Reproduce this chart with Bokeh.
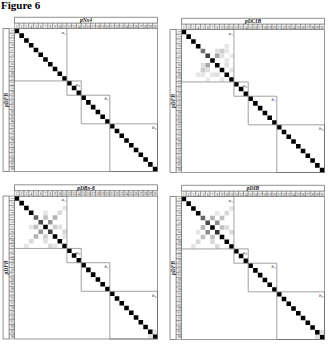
from bokeh.plotting import figure
from bokeh.models import Range1d, Div, ColumnDataSource
from bokeh.layouts import column, row
from bokeh.embed import file_html
from bokeh.resources import INLINE
from bokeh.core.properties import value
import math

# ---------------- data ----------------
n_vars = 30
col_labels = [str(i) for i in range(1, n_vars + 1)]
row_labels = [str(i) for i in range(1, n_vars + 1)]
panel_titles = ["pNx4", "pDCIB", "pDBx-8", "pDIB"]
row_title = "pDFB"
block_sizes = [11, 3, 6, 10]
block_labels = ["a\u2081", "a\u2082", "b\u2081", "b\u2082"]

# diagonal entries that are not fully black: {index: intensity}
diag_pNx4 = {}
diag_pDCIB = {4: 0.55, 5: 0.75}
diag_pDBx8 = {4: 0.6, 5: 0.7, 7: 0.75}
diag_pDIB = {4: 0.6, 5: 0.7, 7: 0.8}

# off-diagonal entries (row, col, intensity), mirrored
off_pNx4 = []
off_pDCIB = [(4, 7, 0.12), (4, 9, 0.1), (5, 7, 0.35), (5, 8, 0.12), (3, 9, 0.1),
             (4, 8, 0.2), (6, 9, 0.1), (7, 9, 0.12), (8, 10, 0.1), (5, 10, 0.08)]
off_pDBx8 = [(3, 6, 0.1), (4, 6, 0.25), (5, 7, 0.4), (4, 8, 0.3), (3, 9, 0.15),
             (2, 10, 0.1), (6, 8, 0.2), (6, 9, 0.12), (7, 10, 0.15), (8, 10, 0.1),
             (28, 29, 0.1)]
off_pDIB = [(4, 6, 0.3), (5, 7, 0.45), (4, 8, 0.25), (3, 9, 0.15), (2, 10, 0.1),
            (6, 8, 0.25), (6, 9, 0.15), (7, 10, 0.15), (3, 7, 0.1), (28, 29, 0.12)]

panels_diag = [diag_pNx4, diag_pDCIB, diag_pDBx8, diag_pDIB]
panels_off = [off_pNx4, off_pDCIB, off_pDBx8, off_pDIB]

# ---------------- drawing ----------------
S = 143.0 / n_vars  # px per cell
SERIF = value("Liberation Serif")


def gray(v):
    g = int(round(255 * (1 - v)))
    return "#%02x%02x%02x" % (g, g, g)


def make_panel(idx, w, h, left_px, top_px):
    x0 = -left_px / S
    y0 = -top_px / S
    p = figure(width=w, height=h, output_backend="svg", toolbar_location=None,
               x_range=Range1d(x0, x0 + w / S), y_range=Range1d(y0 + h / S, y0),
               min_border=0, outline_line_color=None, margin=(0, 0, 0, 0))
    p.xaxis.visible = False
    p.yaxis.visible = False
    p.xgrid.visible = False
    p.ygrid.visible = False

    # cells
    vals = {}
    for i in range(n_vars):
        vals[(i, i)] = panels_diag[idx].get(i, 1.0)
    for r, c, v in panels_off[idx]:
        vals[(r, c)] = v
        vals[(c, r)] = v
    xs = [c + 0.5 for (r, c) in vals]
    ys = [r + 0.5 for (r, c) in vals]
    cols = [gray(v) for v in vals.values()]
    p.rect(x=xs, y=ys, width=0.96, height=0.96, fill_color=cols, line_color=None)

    # block boxes
    starts = [sum(block_sizes[:k]) for k in range(len(block_sizes))]
    ends = [s + b for s, b in zip(starts, block_sizes)]
    p.quad(left=starts, right=ends, top=starts, bottom=ends, fill_color=None,
           line_color="#8a8a8a", line_width=0.8)
    p.text(x=[e - 0.25 for e in ends], y=[s + 0.25 for s in starts], text=block_labels,
           text_font=SERIF, text_font_style="italic", text_font_size="5px",
           text_align="right", text_baseline="top", text_color="#222")

    # matrix frame
    p.quad(left=[0], right=[n_vars], top=[0], bottom=[n_vars], fill_color=None,
           line_color="#555", line_width=0.6)

    # header: title row and number row
    htop, hmid = -2.35, -1.1
    p.quad(left=[0], right=[n_vars], top=[htop], bottom=[hmid], fill_color=None,
           line_color="#444", line_width=0.6)
    p.quad(left=list(range(n_vars)), right=list(range(1, n_vars + 1)),
           top=[hmid] * n_vars, bottom=[0] * n_vars, fill_color="#f4f4f4",
           line_color="#444", line_width=0.4)
    p.text(x=[n_vars / 2], y=[(htop + hmid) / 2], text=[panel_titles[idx]],
           text_font=SERIF, text_font_size="5.5px", text_font_style="bold italic",
           text_align="center", text_baseline="middle", text_color="#111")
    p.text(x=[i + 0.5 for i in range(n_vars)], y=[hmid / 2] * n_vars, text=col_labels,
           text_font=SERIF, text_font_size="3.2px", text_align="center",
           text_baseline="middle", text_color="#222")

    # left column: title and row numbers
    lleft = -2.4
    p.quad(left=[lleft], right=[hmid], top=[0], bottom=[n_vars], fill_color=None,
           line_color="#444", line_width=0.6)
    p.quad(left=[hmid] * n_vars, right=[0] * n_vars, top=list(range(n_vars)),
           bottom=list(range(1, n_vars + 1)), fill_color="#f4f4f4",
           line_color="#444", line_width=0.4)
    p.text(x=[(lleft + hmid) / 2], y=[n_vars / 2], text=[row_title], angle=math.pi / 2,
           text_font=SERIF, text_font_size="5.5px", text_font_style="bold italic",
           text_align="center", text_baseline="middle", text_color="#111")
    p.text(x=[hmid / 2] * n_vars, y=[j + 0.5 for j in range(n_vars)], text=row_labels,
           angle=math.pi / 2, text_font=SERIF, text_font_size="3.2px",
           text_align="center", text_baseline="middle", text_color="#222")
    return p


p1 = make_panel(0, 164, 160, 14, 14)
p2 = make_panel(1, 164, 160, 17, 15)
p3 = make_panel(2, 164, 171, 14, 21.5)
p4 = make_panel(3, 164, 171, 17, 22)

title = Div(text="Figure 6", width=328, height=14, margin=(0, 0, 0, 0),
            styles={"font-family": "Liberation Serif", "font-weight": "bold",
                    "font-size": "11px", "line-height": "11px", "padding-left": "1px"})

layout = column(title, row(p1, p2, spacing=0, margin=(0, 0, 0, 0)),
                row(p3, p4, spacing=0, margin=(0, 0, 0, 0)), spacing=0,
                margin=(0, 0, 0, 0))

open("out.html", "w").write(file_html(layout, INLINE))
